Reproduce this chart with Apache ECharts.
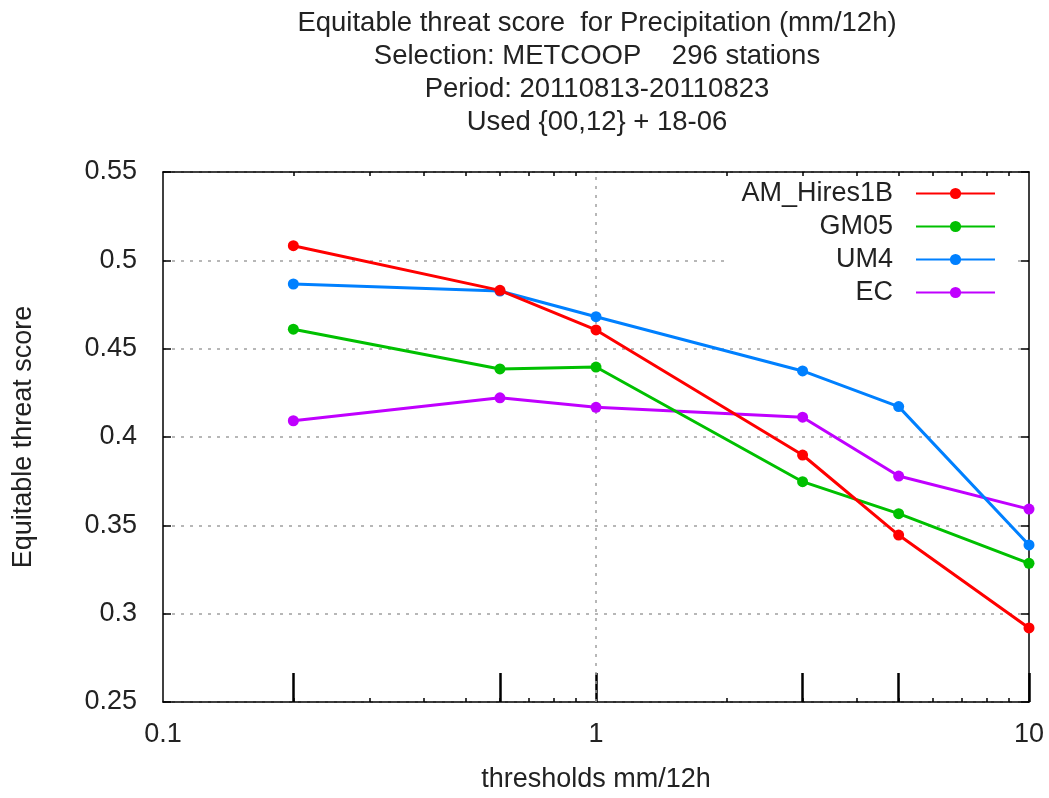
<!DOCTYPE html>
<html>
<head>
<meta charset="utf-8">
<script src="https://cdn.jsdelivr.net/npm/echarts@6/dist/echarts.min.js"></script>
<style>html,body{margin:0;padding:0;background:#fff}#c{width:1049px;height:798px}</style>
</head>
<body>
<div id="c"></div>
<script>
const thresholds = [0.2, 0.6, 1, 3, 5, 10];
const amHires1B = [0.5083, 0.4830, 0.4606, 0.3898, 0.3445, 0.2919];
const gm05 = [0.4610, 0.4385, 0.4396, 0.3747, 0.3566, 0.3285];
const um4 = [0.4866, 0.4826, 0.4681, 0.4374, 0.4172, 0.3389];
const ec = [0.4092, 0.4222, 0.4168, 0.4112, 0.3779, 0.3592];
const seriesNames = ['AM_Hires1B', 'GM05', 'UM4', 'EC'];
const seriesColors = ['#ff0000', '#00c000', '#0080ff', '#c000ff'];
const xLabels = [0.1, 1, 10];
const minorX = [0.2, 0.3, 0.4, 0.5, 0.6, 0.7, 0.8, 0.9, 2, 3, 4, 5, 6, 7, 8, 9];
const titleLines = [
  'Equitable threat score  for Precipitation (mm/12h)',
  'Selection: METCOOP    296 stations',
  'Period: 20110813-20110823',
  'Used {00,12} + 18-06'
];

const FONT = 'Liberation Sans';
const TXT = '#222';
const FS = 27;
const allData = [amHires1B, gm05, um4, ec];

function baseX(extra) {
  return Object.assign({
    type: 'log', logBase: 10, min: 0.1, max: 10, gridIndex: 0,
    axisLine: {show: false}, axisTick: {show: false}, axisLabel: {show: false},
    splitLine: {show: false}, minorTick: {show: false}
  }, extra);
}

const option = {
  animation: false,
  backgroundColor: '#fff',
  textStyle: {fontFamily: FONT},
  title: {
    text: titleLines.join('\n'),
    left: 597, textAlign: 'center', top: 7, padding: 0,
    textStyle: {fontFamily: FONT, fontSize: 27.5, fontWeight: 'normal', color: TXT, lineHeight: 33}
  },
  grid: {left: 163, right: 20, top: 172, bottom: 96, containLabel: false},
  legend: {
    orient: 'vertical', right: 37, top: 177, align: 'right',
    itemWidth: 79, itemHeight: 14, itemGap: 6,
    backgroundColor: '#fff', padding: [3, 16, 3, 14],
    textStyle: {fontFamily: FONT, fontSize: FS, color: TXT, lineHeight: 27, padding: [0, 18, 0, 0]},
    data: seriesNames
  },
  xAxis: [
    baseX({
      position: 'bottom',
      axisLine: {show: true, onZero: false, lineStyle: {color: '#000', width: 1.5}},
      axisLabel: {show: true, customValues: xLabels, fontFamily: FONT, fontSize: FS, color: TXT, margin: 19,
        formatter: function (v) { return String(Math.round(v * 10) / 10); }},
      name: 'thresholds mm/12h', nameLocation: 'middle', nameGap: 64,
      nameTextStyle: {fontFamily: FONT, fontSize: FS, color: TXT}
    }),
    baseX({position: 'bottom',
      axisTick: {show: true, inside: true, length: 4, customValues: minorX, lineStyle: {color: '#000', width: 1.5}}}),
    baseX({position: 'bottom',
      axisTick: {show: true, inside: true, length: 29, customValues: thresholds, lineStyle: {color: '#000', width: 2.5}}}),
    baseX({position: 'top',
      axisLine: {show: true, onZero: false, lineStyle: {color: '#000', width: 1.5}},
      axisTick: {show: true, inside: true, length: 4, customValues: minorX, lineStyle: {color: '#000', width: 1.5}}})
  ],
  yAxis: [
    {
      type: 'value', min: 0.25, max: 0.55, interval: 0.05, position: 'left',
      axisLine: {show: true, onZero: false, lineStyle: {color: '#000', width: 1.5}},
      axisTick: {show: true, inside: true, length: 8, lineStyle: {color: '#000', width: 1.5}},
      axisLabel: {fontFamily: FONT, fontSize: FS, color: TXT, margin: 26},
      splitLine: {show: true, lineStyle: {color: '#a0a0a0', width: 1.5, type: [3, 6]}},
      name: 'Equitable threat score', nameLocation: 'middle', nameGap: 126,
      nameTextStyle: {fontFamily: FONT, fontSize: FS, color: TXT}
    },
    {
      type: 'value', min: 0.25, max: 0.55, interval: 0.05, position: 'right',
      axisLine: {show: true, onZero: false, lineStyle: {color: '#000', width: 1.5}},
      axisTick: {show: true, inside: true, length: 8, lineStyle: {color: '#000', width: 1.5}},
      axisLabel: {show: false}, splitLine: {show: false}
    }
  ],
  series: seriesNames.map(function (name, i) {
    const s = {
      name: name, type: 'line', xAxisIndex: 0, yAxisIndex: 0,
      data: thresholds.map(function (x, j) { return [x, allData[i][j]]; }),
      symbol: 'circle', symbolSize: 11,
      lineStyle: {color: seriesColors[i], width: 3},
      itemStyle: {color: seriesColors[i]},
      z: 3 + (3 - i)
    };
    if (i === 0) {
      s.markLine = {
        silent: true, symbol: 'none', label: {show: false}, z: 1,
        lineStyle: {color: '#a0a0a0', width: 1.5, type: [3, 6]},
        data: [{xAxis: 1}]
      };
    }
    return s;
  })
};

const chart = echarts.init(document.getElementById('c'), null, {renderer: 'canvas'});
chart.setOption(option);
</script>
</body>
</html>
